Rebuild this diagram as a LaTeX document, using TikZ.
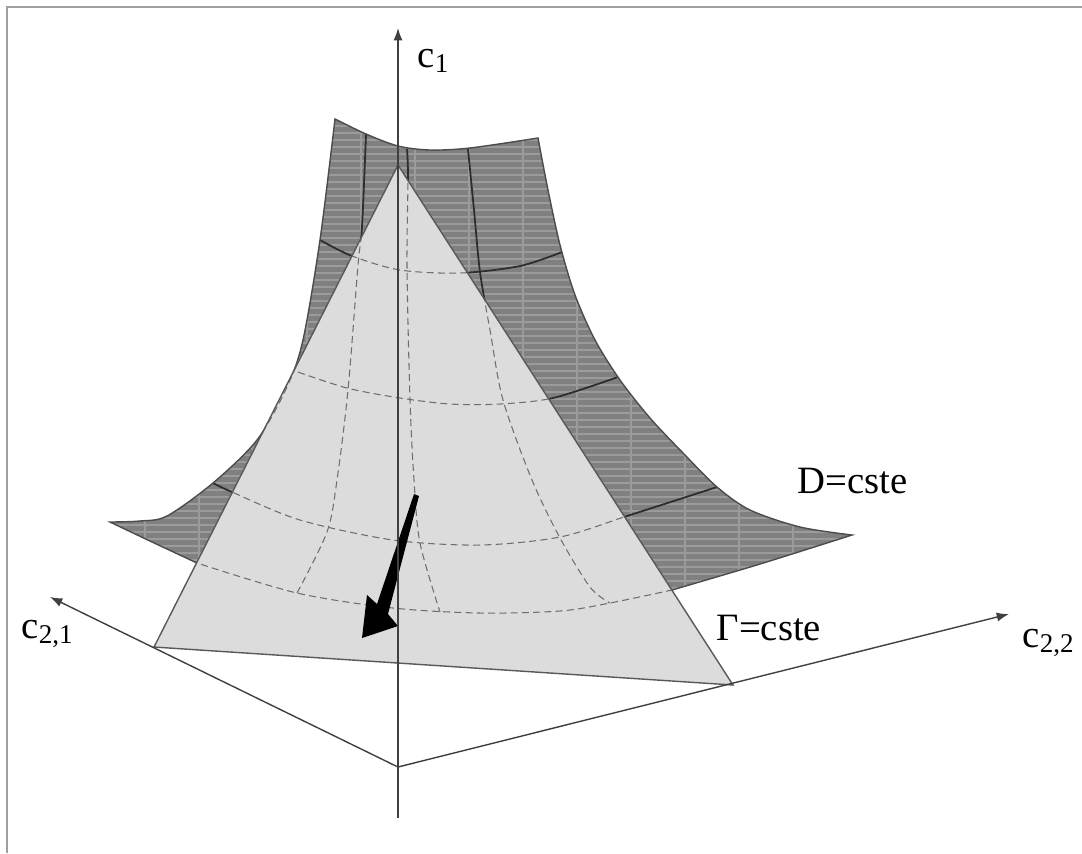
\documentclass[tikz,border=0pt]{standalone}
\usepackage{fontspec}
\setmainfont{Liberation Serif}
\definecolor{surfdark}{RGB}{128,128,128}
\definecolor{surfstripe}{RGB}{155,155,155}
\definecolor{planelight}{RGB}{220,220,220}
\definecolor{meshdark}{RGB}{45,45,45}
\definecolor{hiddengray}{RGB}{110,110,110}
\definecolor{framegray}{RGB}{160,160,160}
\usetikzlibrary{arrows.meta}

% outline of the D=cste surface
\newcommand{\surfoutline}{%
  plot[smooth] coordinates {(335,119) (366,134) (398,146) (430,150) (470,148) (538,138)}
  -- plot[smooth] coordinates {(538,138) (548,190) (560,245) (575,295) (595,340) (620,380) (650,418) (683,453) (717,487) (750,510) (800,527) (852,535)}
  -- plot[smooth] coordinates {(852,535) (760,564) (672,590)}
  -- plot[smooth] coordinates {(672,590) (610,603) (560,611) (480,613) (393,608) (297,593) (197,563)}
  -- plot[smooth] coordinates {(197,563) (150,541) (110,522)}
  -- plot[smooth] coordinates {(110,522) (140,521) (167,516) (213,483) (257,440) (287,387) (303,340) (320,240) (335,119)}
  -- cycle}

% level curves and meridians of the surface
\newcommand{\surfmesh}{%
  plot[smooth] coordinates {(320,240) (352,256) (400,270) (460,273) (520,266) (562,252)}
  plot[smooth] coordinates {(298,372) (347,388) (400,398) (450,404) (500,404) (553,398) (618,377)}
  plot[smooth] coordinates {(213,483) (232,492) (300,520) (393,540) (480,545) (560,537) (627,516) (717,487)}
  plot[smooth] coordinates {(366,134) (362,227) (358,265) (348,390) (337,480) (327,532) (297,593)}
  plot[smooth] coordinates {(407,149) (408,177) (407,267) (410,400) (414,480) (420,543) (440,612)}
  plot[smooth] coordinates {(468,149) (474,210) (480,272) (490,330) (503,400) (532,480) (560,538) (590,587) (610,603)}}

\begin{document}
\begin{tikzpicture}[x=0.01cm, y=-0.01cm,
  axis/.style={draw=black!75, line width=0.4pt, -{Latex[length=3.5pt,width=2.6pt]}},
  meshsolid/.style={draw=meshdark, line width=0.5pt},
  hidden/.style={draw=hiddengray, line width=0.3pt, dash pattern=on 2pt off 1.2pt},
  stripe/.style={draw=surfstripe, line width=0.3pt},
  plane/.style={fill=planelight},
  planeedge/.style={draw=black!65, line width=0.4pt},
  lbl/.style={font=\fontsize{11}{13}\selectfont, inner sep=0pt, anchor=base west}]
  \useasboundingbox (0,0) rectangle (1082,853);

  % frame
  \draw[framegray, line width=0.6pt] (1082,7) -- (7,7) -- (7,853);

  % points
  \coordinate (O) at (398,767);
  \coordinate (c1top) at (398,28);
  \coordinate (c1bot) at (398,818);
  \coordinate (c21tip) at (50,597);
  \coordinate (c22tip) at (1009,614);
  \coordinate (gA) at (398,165);
  \coordinate (gB) at (154,647);
  \coordinate (gC) at (733,685);

  % surface D=cste
  \fill[surfdark] \surfoutline;
  \begin{scope}
    \clip \surfoutline;
    \foreach \yy in {119,126,...,600} \draw[stripe] (100,\yy) -- (860,\yy);
    \foreach \xx in {145,199,...,793} \draw[stripe] (\xx,110) -- (\xx,600);
  \end{scope}
  \draw[meshsolid] \surfmesh;
  \draw[draw=black!70, line width=0.4pt] \surfoutline;

  % plane Gamma=cste
  \fill[plane] (gA) -- (gB) -- (gC) -- cycle;
  \begin{scope}
    \clip (gA) -- (gB) -- (gC) -- cycle;
    \draw[hidden] \surfmesh;
    \draw[hidden] \surfoutline;
  \end{scope}
  \draw[planeedge] (gA) -- (gB) -- (gC) -- cycle;

  % descent arrow
  \fill[black] (414,494) -- (377,604) -- (367,595) -- (362,638) -- (398,626) -- (388,614) -- (419,496) -- cycle;

  % axes
  \draw[axis] (O) -- (c21tip);
  \draw[axis] (O) -- (c22tip);
  \draw[axis] (c1bot) -- (c1top);

  % labels
  \node[lbl] (labc1) at (417,67) {c\textsubscript{1}};
  \node[lbl] (labc21) at (21,638) {c\textsubscript{2,1}};
  \node[lbl] (labc22) at (1022,647) {c\textsubscript{2,2}};
  \node[lbl] (labD) at (797,493) {D=cste};
  \node[lbl] (labG) at (716,640) {Γ=cste};
\end{tikzpicture}
\end{document}
